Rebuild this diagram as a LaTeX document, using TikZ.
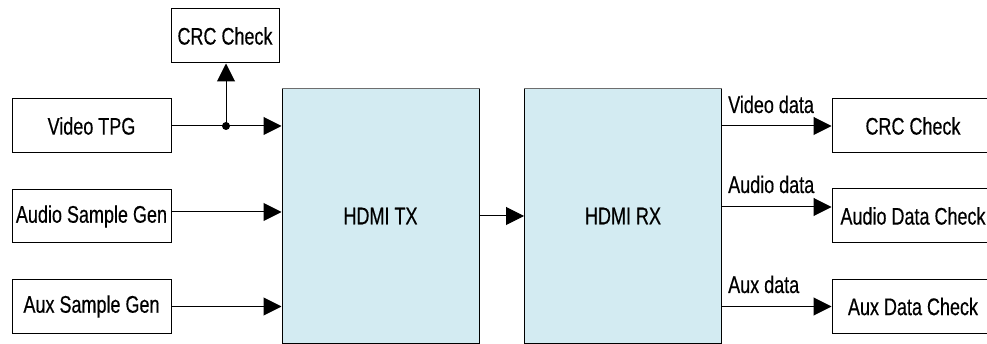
\documentclass[tikz,border=0pt]{standalone}
\usepackage{fontspec}
\setmainfont{Liberation Sans}[FakeStretch=0.75,FakeBold=0.4]
\usetikzlibrary{arrows.meta}
\definecolor{hdmiblue}{RGB}{211,235,242}
\definecolor{edgegray}{RGB}{110,110,110}
\tikzset{
  blk/.style={draw=black, line width=1pt, inner sep=0pt, font=\fontsize{24}{26}\selectfont},
  hdmi/.style={blk, fill=hdmiblue, minimum width=197pt, minimum height=254pt},
  arr/.style={line width=1pt, -{Triangle[length=18pt,width=18pt]}},
  lbl/.style={inner sep=0pt, anchor=base west, font=\fontsize{24}{26}\selectfont},
  topedge/.style={draw=edgegray, line width=1.2pt},
}
\begin{document}
\begin{tikzpicture}[x=1pt,y=-1pt]
\useasboundingbox (0,0) rectangle (987,344);
% left sources
\node[blk, minimum width=159pt, minimum height=54pt] (vtpg) at (91.5,126) {Video TPG};
\node[blk, minimum width=159pt, minimum height=53pt] (asg) at (91.5,216.5) {Audio Sample Gen};
\node[blk, minimum width=159pt, minimum height=53pt] (xsg) at (91.5,306.5) {Aux Sample Gen};
\node[blk, minimum width=108pt, minimum height=54pt] (crc1) at (225,36) {CRC Check};
% HDMI blocks
\node[hdmi] (tx) at (380.5,216) {HDMI TX};
\node[hdmi] (rx) at (623,216) {HDMI RX};
\draw[topedge] (tx.north west) -- (tx.north east);
\draw[topedge] (rx.north west) -- (rx.north east);
% right sinks
\node[blk, minimum width=162pt, minimum height=54pt] (crc2) at (913,126) {CRC Check};
\node[blk, minimum width=162pt, minimum height=54pt] (adc) at (913,216) {Audio Data Check};
\node[blk, minimum width=162pt, minimum height=54pt] (xdc) at (913,306.5) {Aux Data Check};
% junction
\coordinate (j) at (226,126);
\fill (j) circle (4pt);
% connectors
\draw[line width=1pt] (vtpg.east) -- (j);
\draw[arr] (j) -- (j |- crc1.south);
\draw[arr] (j) -- (tx.west |- j);
\draw[arr] (asg.east |- 0,212) -- (tx.west |- 0,212);
\draw[arr] (xsg.east) -- (tx.west |- xsg.east);
\draw[arr] (tx.east |- 0,216) -- (rx.west |- 0,216);
\draw[arr] (rx.east |- crc2.west) -- (crc2.west);
\draw[arr] (rx.east |- 0,207) -- (adc.west |- 0,207);
\draw[arr] (rx.east |- xdc.west) -- (xdc.west);
% labels
\node[lbl] (lv) at (728,113) {Video data};
\node[lbl] (la) at (728,193) {Audio data};
\node[lbl] (lx) at (728,293) {Aux data};
\end{tikzpicture}
\end{document}
